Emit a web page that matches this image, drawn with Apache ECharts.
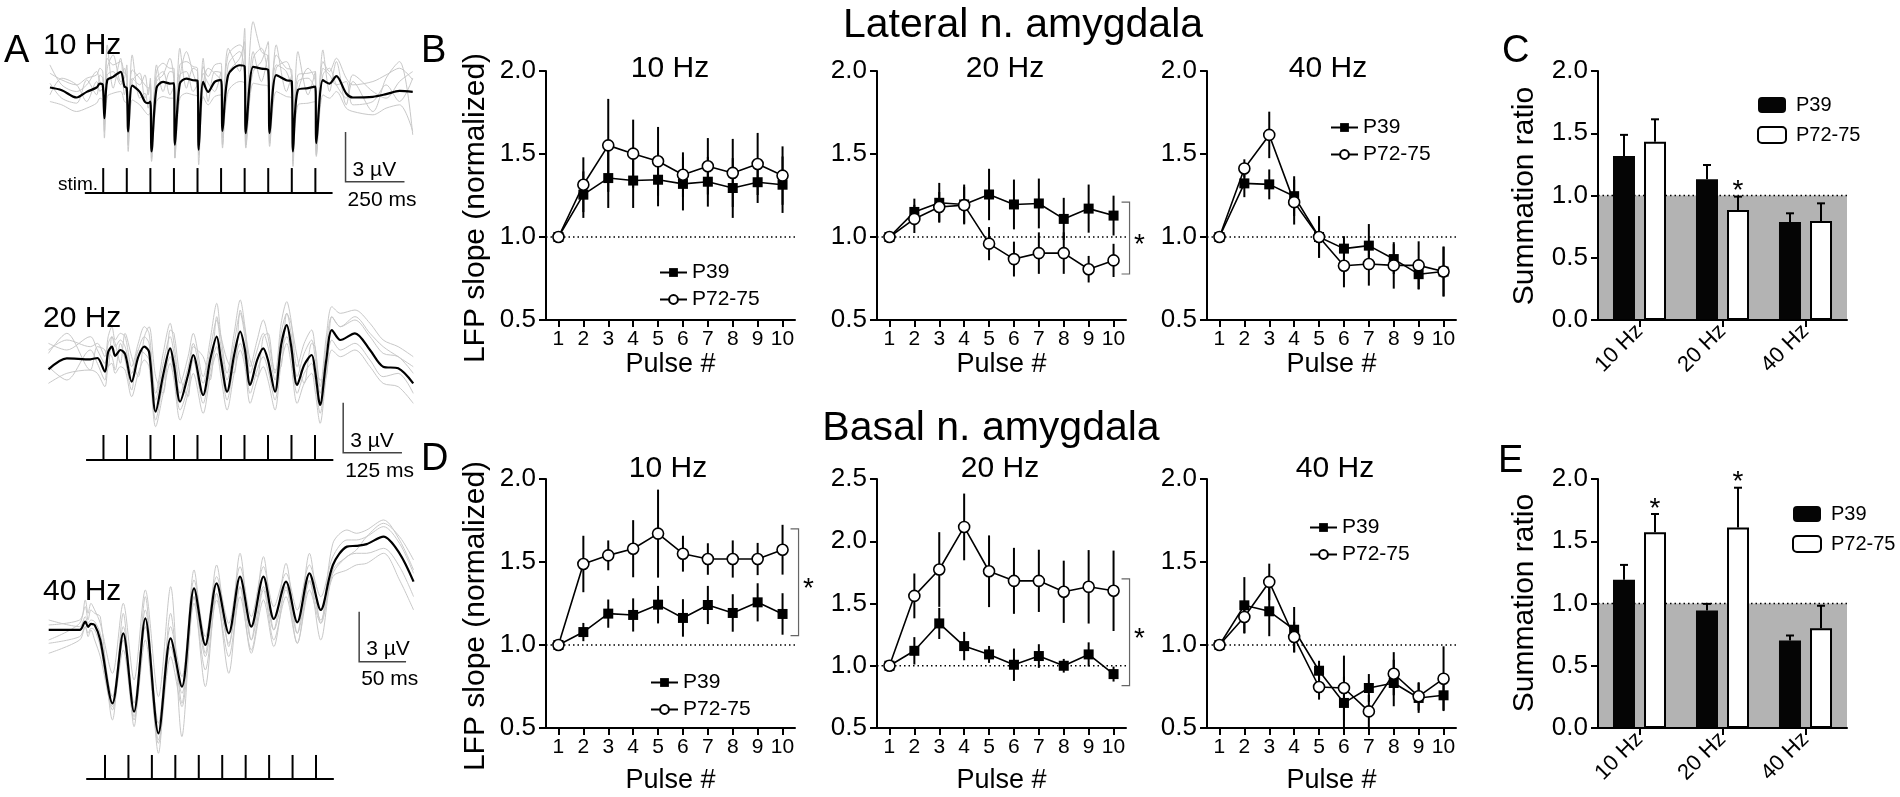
<!DOCTYPE html>
<html>
<head>
<meta charset="utf-8">
<title>Summation of LFP slopes in lateral and basal amygdala</title>
<script src="https://cdn.jsdelivr.net/npm/echarts@6/dist/echarts.min.js"></script>
<style>
  html, body { margin: 0; padding: 0; background: #fff; }
  #chart { width: 1900px; height: 797px; }
</style>
</head>
<body>
<div id="chart"></div>
<script>
// ---- Panel A: example LFP traces (time in ms from first pulse, amplitude in µV) ----
var t10 = [-226,-176,-113,-70,-28,-14,-2,5,17,42, 74,90,100,106,123,155,177,191,200,205,
  226,254,283,300,304,325,353,381,400,405, 424,445,473,500,506,530,579,600,605,636,
  671,700,706,734,777,800,805,826,869,900, 904,932,960,989,1031,1059,1144,1200,1257,1313];
var mean10 = [0.04,-0.12,-0.56,-0.22,0.04,0.28,0.2,-1.8,0.48,0.68, 0.98,0.1,0.0,-2.6,0.15,-0.22,-0.82,-0.9,-0.8,-3.8,
  0.0,0.38,0.28,0.3,-3.4,0.28,0.58,0.48,0.45,-3.7, 0.38,-0.22,0.38,0.5,-2.56,0.78,1.38,1.3,-2.7,1.28,
  1.18,1.1,-2.7,0.78,0.48,0.4,-3.8,-0.1,0.0,0.1, -3.3,0.48,0.28,0.72,-0.32,-0.56,-0.52,-0.36,-0.16,-0.22];
var gray10a = [0.9,0.5,0.2,0.6,0.8,1.2,1.0,-1.2,1.8,1.4, 1.6,0.9,0.8,-2.0,1.1,0.6,0.2,0.0,0.2,-3.0,
  1.0,1.5,1.2,1.2,-2.6,1.4,1.6,1.3,1.2,-2.8, 1.3,0.7,1.4,1.5,-1.6,2.0,2.6,2.2,-1.8,4.0,
  2.2,1.9,-1.9,2.0,1.2,1.1,-3.2,0.8,0.9,1.0, -2.5,1.6,1.0,1.8,0.6,0.2,0.4,0.8,1.2,0.5];
var gray10b = [-0.8,-1.0,-1.4,-1.2,-0.9,-0.6,-0.7,-2.6,-0.5,-0.3, -0.2,-0.8,-0.9,-3.4,-0.7,-1.0,-1.4,-1.6,-1.5,-4.4,
  -0.8,-0.5,-0.6,-0.6,-4.2,-0.6,-0.3,-0.4,-0.5,-4.6, -0.5,-1.0,-0.5,-0.4,-3.4,-0.2,0.4,0.3,-3.6,0.3,
  0.2,0.1,-3.5,-0.2,-0.5,-0.6,-4.7,-1.0,-0.9,-0.8, -4.1,-0.4,-0.6,-0.2,-1.2,-1.4,-1.6,-1.2,-1.0,-2.6];
var gray10c = [0.3,-0.6,-0.9,0.5,-0.4,0.8,0.6,-2.2,2.6,0.0, 1.8,-0.4,0.3,-3.0,2.0,-0.6,-0.3,-1.2,-0.5,-4.2,
  1.4,-0.2,1.0,0.9,-3.8,2.4,0.0,1.2,1.0,-4.0, 1.8,-0.8,1.0,0.9,-3.0,2.4,1.0,3.6,-3.2,2.2,
  0.4,2.0,-3.3,2.6,-0.2,0.8,-4.4,2.2,-0.4,1.0, -3.8,2.3,-0.2,1.6,-1.0,0.4,-1.4,0.6,1.6,-2.8];
var gray10d = [-0.4,0.6,0.2,-0.8,0.4,-0.2,0.0,-3.0,0.8,1.0, 0.2,1.2,0.6,-3.8,0.4,0.9,-0.6,-0.2,0.3,-2.8,
  0.6,1.0,-0.4,0.1,-4.2,0.8,1.0,-0.2,0.2,-2.6, 0.9,0.3,-0.2,1.0,-3.6,1.4,2.2,0.8,-3.4,1.8,
  2.4,0.6,-2.0,1.4,1.0,-0.2,-2.8,0.4,0.6,-0.3, -4.0,1.2,0.8,0.2,0.4,-1.0,-0.8,0.2,-0.8,0.6];
var gray10e = [1.4,0.2,-0.2,0.2,1.0,0.4,0.2,-1.4,1.2,2.0, 0.4,0.6,1.4,-2.2,0.6,0.2,0.8,-0.4,0.6,-3.4,
  0.4,0.8,1.8,0.4,-3.0,0.6,2.2,0.9,0.0,-3.2, 0.2,1.2,0.9,0.4,-2.2,0.9,1.8,2.8,-2.0,1.0,
  1.6,2.8,-2.4,1.2,1.6,0.6,-3.0,-0.2,1.2,0.4, -2.8,0.8,1.2,0.2,-0.6,0.8,-0.2,-0.6,0.4,1.0];

var t20 = [-117,-78,-28,-13,3,10,18,25,36,46, 60,74,87,97,111,127,142,150,163,180,
  191,212,227,241,250,263,278,291,301,312, 327,340,350,365,378,390,399,412,427,443,
  450,461,474,486,504,535,567,595,627,659];
var mean20 = [-0.56,0.1,0.04,0.12,-0.7,0.48,0.8,0.24,0.6,0.36, -1.3,0.18,0.8,0.48,-3.1,-0.9,0.7,-0.3,-2.5,-0.9,
  0.3,-2.1,0,1.4,0,-1.9,0.3,1.7,0.6,-1.5, 0,0.7,0,-1.9,0.9,2.1,0.9,-1.5,-0.3,0.3,
  -0.6,-2.7,0,1.8,1.2,1.6,0.6,-0.4,-0.5,-1.4];
var gray20a = [0.6,1.2,0.8,1.0,0.2,1.4,2.0,1.2,1.6,1.4, -0.4,1.0,2.0,1.6,-2.0,0.4,2.2,1.0,-1.4,0.2,
  1.6,-1.0,1.2,3.4,1.4,-0.8,1.6,3.6,2.0,-0.4, 1.2,2.4,1.4,-0.8,2.2,3.5,2.4,-0.4,1.0,1.8,
  0.8,-1.6,1.4,3.2,2.8,3.0,2.2,1.2,0.8,0.2];
var gray20b = [-1.4,-0.8,-0.6,-0.8,-1.6,-0.4,-0.2,-0.8,-0.4,-0.6, -2.2,-0.8,0.0,-0.4,-4.0,-2.0,-0.2,-1.2,-3.6,-2.0,
  -0.8,-3.2,-1.0,0.4,-1.0,-3.0,-0.8,0.6,-0.4,-2.6, -1.2,-0.4,-1.2,-3.0,-0.2,1.0,-0.2,-2.6,-1.4,-0.8,
  -1.8,-3.8,-1.0,0.6,0.2,0.6,-0.4,-1.4,-1.6,-2.6];
var gray20c = [0.4,1.6,-0.6,0.8,0.6,-0.4,1.4,1.0,-0.2,1.6, 0.2,-1.0,1.4,2.0,-1.0,-2.0,1.8,1.6,-1.0,-2.2,
  0.8,0.2,-1.2,2.6,1.4,0.0,-0.8,3.0,1.8,0.0, -1.0,1.4,1.6,-0.6,-0.4,2.8,2.2,0.2,-1.4,1.0,
  0.8,-1.2,-1.0,2.6,2.0,2.6,1.6,0.8,0.2,-0.4];
var gray20d = [-0.4,-1.2,0.6,-0.2,-1.2,0.4,0.2,-0.6,1.0,0.0, -1.8,0.6,0.4,0.0,-3.6,-1.4,0.2,-0.8,-3.0,-1.6,
  0.0,-2.6,-0.6,0.8,-0.4,-2.4,-0.2,1.0,0.0,-2.0, -0.6,0.2,-0.6,-2.4,0.4,1.4,0.4,-2.0,-0.8,-0.2,
  -1.2,-3.2,-0.6,1.2,0.6,1.0,0.0,-1.0,-0.8,-2.0];
var gray20e = [1.0,0.6,1.4,0.6,-0.2,1.0,1.4,0.8,1.2,0.8, -0.8,0.6,1.4,1.0,-2.4,-0.2,1.4,0.4,-2.0,-0.4,
  1.0,-1.4,0.6,2.4,0.8,-1.2,1.0,2.8,1.4,-0.8, 0.6,1.6,0.8,-1.2,1.6,2.8,1.6,-1.0,0.4,1.2,
  0.2,-2.0,0.8,2.6,2.0,2.4,1.4,0.4,0.2,-0.8];

var t40 = [-60,-27,-21,-18,-15,-11,-5,8,19.5,31, 43,57,70,82,95,107,119,132,144,156,
  169,180,193,205,218,230,243,258,268,279, 297,314,329];
var mean40 = [0,0,0.5,0.18,0.36,0.3,-0.6,-4.4,-0.2,-4.9, 0.7,-6.2,-0.5,-3.4,2.5,-0.9,2.8,-0.2,3.2,0.2,
  3.2,0.66,2.9,0.46,3.4,1.2,3.9,5.0,5.05,5.15, 5.6,4.6,2.9];
var gray40a = [0.3,0.6,1.4,0.6,1.2,1.0,0.8,-5.4,1.0,-5.8, 2.0,-7.4,1.0,-4.4,3.6,-1.4,3.9,-1.0,4.6,-0.6,
  4.4,0.0,4.0,-0.2,4.6,0.4,5.2,6.0,5.8,6.0, 6.6,5.4,3.6];
var gray40b = [-1.4,-0.6,0.2,-0.4,0.0,-0.6,-1.6,-4.6,-1.2,-5.4, -0.6,-6.8,-1.6,-4.6,1.6,-2.4,1.8,-1.6,2.0,-1.2,
  2.4,-0.6,2.0,-0.8,2.4,0.4,3.2,3.6,3.9,4.0, 4.6,3.0,1.2];
var gray40c = [-0.6,0.4,1.8,1.0,1.6,1.2,0.4,-2.6,1.6,-3.0, 2.4,-4.0,2.6,-6.4,2.0,-3.4,2.2,-2.6,2.6,-1.4,
  1.8,-1.0,2.6,-0.8,3.0,-0.6,3.6,4.4,4.8,5.6, 6.4,5.6,4.2];
var gray40d = [0.6,0.2,0.8,0.4,0.6,0.5,-0.2,-4.0,0.2,-4.4, 1.2,-5.6,0.2,-2.8,3.0,-0.4,3.2,0.4,3.8,0.8,
  3.8,1.4,3.4,1.2,3.9,2.0,4.4,5.4,5.4,5.6, 6.2,5.2,3.4];
var gray40e = [-0.8,-0.4,0.2,-0.2,0.1,0.0,-1.0,-4.8,-0.6,-5.2, 0.2,-6.6,-1.0,-3.8,2.0,-1.6,2.2,-0.8,2.6,-0.6,
  2.6,0.0,2.4,-0.2,2.9,0.6,3.4,4.4,4.6,4.6, 4.9,3.8,2.0];

var stim10 = [0,100,200,300,400,500,600,700,800,900];
var stim20 = [0,50,100,150,200,250,300,350,400,450];
var stim40 = [0,25,50,75,100,125,150,175,200,225];
var stimSpan10 = [-78, 973], stimSpan20 = [-37, 489], stimSpan40 = [-20, 244];
var stimLevel10 = [-4.8, -6.3], stimLevel20 = [-4.5, -6.0], stimLevel40 = [-7.5, -8.94];
// scale bars: [t0, v0, dt (ms), dv (µV)]
var scaleBar10 = [1028, -5.63, 250, 3], scaleBar20 = [510, -5.57, 125, 3], scaleBar40 = [271, -1.9, 50, 3];
var scaleText10 = ['3 µV', '250 ms'], scaleText20 = ['3 µV', '125 ms'], scaleText40 = ['3 µV', '50 ms'];

// ---- Panels B / D: normalized LFP slope per pulse (mean, SEM) ----
var pulses = ['1','2','3','4','5','6','7','8','9','10'];
var latP39_10  = [1.00, 1.255, 1.355, 1.34, 1.345, 1.32, 1.333, 1.295, 1.33, 1.315];
var latP39_10e = [0, 0.14, 0.18, 0.165, 0.16, 0.16, 0.15, 0.18, 0.125, 0.17];
var latP72_10  = [1.00, 1.315, 1.552, 1.502, 1.456, 1.375, 1.426, 1.386, 1.44, 1.37];
var latP72_10e = [0, 0.165, 0.28, 0.205, 0.207, 0.135, 0.17, 0.205, 0.187, 0.176];
var latP39_20  = [1.00, 1.151, 1.206, 1.196, 1.256, 1.196, 1.202, 1.109, 1.171, 1.129];
var latP39_20e = [0, 0.08, 0.12, 0.12, 0.155, 0.15, 0.15, 0.127, 0.145, 0.12];
var latP72_20  = [1.00, 1.109, 1.181, 1.192, 0.96, 0.867, 0.903, 0.903, 0.806, 0.859];
var latP72_20e = [0, 0.085, 0.09, 0.11, 0.1, 0.105, 0.125, 0.125, 0.08, 0.1];
var latP39_40  = [1.00, 1.323, 1.317, 1.246, 1.0, 0.93, 0.948, 0.867, 0.776, 0.792];
var latP39_40e = [0, 0.083, 0.09, 0.12, 0.125, 0.075, 0.13, 0.09, 0.09, 0.15];
var latP72_40  = [1.00, 1.413, 1.615, 1.21, 1.0, 0.827, 0.837, 0.829, 0.829, 0.792];
var latP72_40e = [0, 0.055, 0.14, 0.135, 0.125, 0.13, 0.13, 0.14, 0.145, 0.15];

var basP39_10  = [1.00, 1.078, 1.189, 1.181, 1.243, 1.163, 1.241, 1.193, 1.257, 1.187];
var basP39_10e = [0, 0.055, 0.085, 0.1, 0.113, 0.113, 0.115, 0.113, 0.115, 0.125];
var basP72_10  = [1.00, 1.488, 1.540, 1.580, 1.671, 1.550, 1.518, 1.518, 1.518, 1.574];
var basP72_10e = [0, 0.17, 0.09, 0.172, 0.265, 0.108, 0.095, 0.112, 0.097, 0.15];
var basP39_20  = [1.00, 1.12, 1.34, 1.158, 1.091, 1.008, 1.078, 1.0, 1.091, 0.933];
var basP39_20e = [0, 0.11, 0.125, 0.114, 0.068, 0.13, 0.095, 0.055, 0.097, 0.06];
var basP72_20  = [1.00, 1.561, 1.773, 2.115, 1.759, 1.682, 1.682, 1.594, 1.634, 1.602];
var basP72_20e = [0, 0.18, 0.3, 0.268, 0.288, 0.265, 0.25, 0.25, 0.295, 0.323];
var basP39_40  = [1.00, 1.239, 1.203, 1.092, 0.845, 0.651, 0.741, 0.771, 0.681, 0.697];
var basP39_40e = [0, 0.17, 0.15, 0.137, 0.06, 0.16, 0.084, 0.14, 0.09, 0.09];
var basP72_40  = [1.00, 1.169, 1.38, 1.048, 0.747, 0.741, 0.6, 0.827, 0.691, 0.797];
var basP72_40e = [0, 0.097, 0.11, 0.092, 0.076, 0.195, 0.1, 0.13, 0.085, 0.195];

// significance brackets over the last pulses: [top, bottom] in slope units
var bracketLat20 = [1.21, 0.777], bracketBas10 = [1.699, 1.056], bracketBas20 = [1.697, 0.84];

// ---- Panels C / E: summation ratio ----
var freqs = ['10 Hz', '20 Hz', '40 Hz'];
var latSumP39 = [1.317, 1.13, 0.787], latSumP39e = [0.17, 0.115, 0.07];
var latSumP72 = [1.432, 0.884, 0.795], latSumP72e = [0.18, 0.107, 0.142];
var latSumSig = [0, 1, 0];
var basSumP39 = [1.19, 0.944, 0.703], basSumP39e = [0.12, 0.053, 0.04];
var basSumP72 = [1.572, 1.61, 0.802], basSumP72e = [0.147, 0.32, 0.18];
var basSumSig = [1, 1, 0];

var FONT = '"Liberation Sans", Arial, Helvetica, sans-serif';

function txtStyle(text, size, align, va) {
  return { text: text, fill: '#000', font: size + 'px ' + FONT,
    align: align, verticalAlign: va, textAlign: align, textVerticalAlign: va };
}
function label(text, x, y, size, align, rot) {
  return { type: 'text', x: x, y: y, rotation: rot || 0, silent: true, z: 10,
    style: txtStyle(text, size, align || 'center', 'middle') };
}

var grids = [
  { left: 49, top: 15, width: 364.2, height: 183 },      // A 10 Hz
  { left: 48, top: 290, width: 365.7, height: 175 },     // A 20 Hz
  { left: 48.7, top: 513.3, width: 365.8, height: 270 }, // A 40 Hz
  { left: 546, top: 71, width: 249, height: 249 },       // B 10 Hz
  { left: 877, top: 71, width: 249, height: 249 },       // B 20 Hz
  { left: 1207, top: 71, width: 249, height: 249 },      // B 40 Hz
  { left: 1598, top: 71, width: 249, height: 249 },      // C
  { left: 546, top: 479, width: 249, height: 249 },      // D 10 Hz
  { left: 877, top: 479, width: 249, height: 249 },      // D 20 Hz
  { left: 1207, top: 479, width: 249, height: 249 },     // D 40 Hz
  { left: 1598, top: 479, width: 249, height: 249 }      // E
];
grids.forEach(function(g) { g.outerBoundsMode = 'none'; g.containLabel = false; });

var xAxes = [], yAxes = [];
var traceRange = [[-230, 1315, -6.6, 4.4], [-118, 660, -6.3, 4.2], [-60, 330, -9.2, 7]];
traceRange.forEach(function(r, i) {
  xAxes.push({ type: 'value', gridIndex: i, min: r[0], max: r[1], show: false });
  yAxes.push({ type: 'value', gridIndex: i, min: r[2], max: r[3], show: false });
});

var axLine = { show: true, onZero: false, lineStyle: { color: '#000', width: 2 } };
var axTick = { show: true, length: 7, lineStyle: { color: '#000', width: 2 } };

function pulseAxes(g, ymin, ymax, nameGap) {
  xAxes.push({
    type: 'category', gridIndex: g, data: pulses, boundaryGap: true,
    axisLine: axLine, axisTick: { show: true, alignWithLabel: true, length: 7, lineStyle: { color: '#000', width: 2 } },
    axisLabel: { color: '#000', fontSize: 21, fontFamily: FONT, margin: 9, interval: 0 },
    splitLine: { show: false },
    name: 'Pulse #', nameLocation: 'middle', nameGap: nameGap,
    nameTextStyle: { color: '#000', fontSize: 27, fontFamily: FONT }
  });
  yAxes.push({
    type: 'value', gridIndex: g, min: ymin, max: ymax, interval: 0.5,
    axisLine: axLine, axisTick: axTick, splitLine: { show: false },
    axisLabel: { color: '#000', fontSize: 26, fontFamily: FONT, margin: 10,
      formatter: function(v) { return v.toFixed(1); } }
  });
}
function freqAxes(g) {
  xAxes.push({
    type: 'category', gridIndex: g, data: freqs, z: 5,
    axisLine: axLine, axisTick: { show: true, alignWithLabel: true, length: 7, lineStyle: { color: '#000', width: 2 } },
    axisLabel: { color: '#000', fontSize: 22, fontFamily: FONT, rotate: 45, margin: 8, interval: 0 },
    splitLine: { show: false }
  });
  yAxes.push({
    type: 'value', gridIndex: g, min: 0, max: 2, interval: 0.5, z: 5,
    axisLine: axLine, axisTick: axTick, splitLine: { show: false },
    axisLabel: { color: '#000', fontSize: 26, fontFamily: FONT, margin: 10,
      formatter: function(v) { return v.toFixed(1); } }
  });
}
pulseAxes(3, 0.5, 2.0, 31);
pulseAxes(4, 0.5, 2.0, 31);
pulseAxes(5, 0.5, 2.0, 31);
freqAxes(6);
pulseAxes(7, 0.5, 2.0, 39);
pulseAxes(8, 0.5, 2.5, 39);
pulseAxes(9, 0.5, 2.0, 39);
freqAxes(10);

var series = [];

// --- trace panels ---
function addTraces(g, times, lists) {
  lists.forEach(function(vals, k) {
    var isMean = k === lists.length - 1;
    series.push({
      type: 'line', xAxisIndex: g, yAxisIndex: g, silent: true, symbol: 'none', showSymbol: false,
      smooth: 0.3, data: times.map(function(t, i) { return [t, vals[i]]; }),
      lineStyle: { color: isMean ? '#000' : '#c8c8c8', width: isMean ? 2.2 : 1 },
      z: isMean ? 3 : 2
    });
  });
}
function addStim(g, times, span, level) {
  series.push({
    type: 'custom', xAxisIndex: g, yAxisIndex: g, silent: true, z: 3,
    data: times.map(function(t) { return [t, level[0], level[1]]; }),
    renderItem: function(params, api) {
      var a = api.coord([api.value(0), api.value(1)]), b = api.coord([api.value(0), api.value(2)]);
      return { type: 'line', shape: { x1: a[0], y1: a[1], x2: b[0], y2: b[1] }, style: { stroke: '#000', lineWidth: 2 } };
    }
  });
  series.push({
    type: 'custom', xAxisIndex: g, yAxisIndex: g, silent: true, z: 3,
    data: [[span[0], span[1], level[1]]],
    renderItem: function(params, api) {
      var a = api.coord([api.value(0), api.value(2)]), b = api.coord([api.value(1), api.value(2)]);
      return { type: 'line', shape: { x1: a[0], y1: a[1], x2: b[0], y2: b[1] }, style: { stroke: '#000', lineWidth: 2 } };
    }
  });
}
function addScaleBar(g, bar, texts) {
  series.push({
    type: 'custom', xAxisIndex: g, yAxisIndex: g, silent: true, z: 3, clip: false,
    data: [bar],
    renderItem: function(params, api) {
      var t0 = api.value(0), v0 = api.value(1), dt = api.value(2), dv = api.value(3);
      var c = api.coord([t0, v0]), top = api.coord([t0, v0 + dv]), r = api.coord([t0 + dt, v0]);
      return { type: 'group', children: [
        { type: 'polyline', shape: { points: [top, c, r] }, style: { stroke: '#444', lineWidth: 1.5, fill: null } },
        { type: 'text', x: c[0] + 7, y: c[1] - 12, style: txtStyle(texts[0], 21, 'left', 'middle') },
        { type: 'text', x: c[0] + 2, y: c[1] + 18, style: txtStyle(texts[1], 21, 'left', 'middle') }
      ] };
    }
  });
}
addTraces(0, t10, [gray10a, gray10b, gray10c, gray10d, gray10e, mean10]);
addStim(0, stim10, stimSpan10, stimLevel10);
addScaleBar(0, scaleBar10, scaleText10);
addTraces(1, t20, [gray20a, gray20b, gray20c, gray20d, gray20e, mean20]);
addStim(1, stim20, stimSpan20, stimLevel20);
addScaleBar(1, scaleBar20, scaleText20);
addTraces(2, t40, [gray40a, gray40b, gray40c, gray40d, gray40e, mean40]);
addStim(2, stim40, stimSpan40, stimLevel40);
addScaleBar(2, scaleBar40, scaleText40);

// --- pulse panels ---
function refLine(g) {
  series.push({
    type: 'custom', xAxisIndex: g, yAxisIndex: g, silent: true, z: 1, data: [[0, 1]],
    renderItem: function(params, api) {
      var cs = params.coordSys, y = api.coord([0, api.value(1)])[1];
      return { type: 'line', shape: { x1: cs.x, y1: y, x2: cs.x + cs.width, y2: y },
        style: { stroke: '#000', lineWidth: 1.5, lineDash: [1.5, 3] } };
    }
  });
}
function errSeries(g, vals, errs) {
  series.push({
    type: 'custom', xAxisIndex: g, yAxisIndex: g, silent: true, z: 2, clip: true,
    data: vals.map(function(v, i) { return [i, v, errs[i]]; }),
    renderItem: function(params, api) {
      var i = api.value(0), v = api.value(1), e = api.value(2);
      var lo = api.coord([i, v - e]), hi = api.coord([i, v + e]);
      return { type: 'line', shape: { x1: lo[0], y1: lo[1], x2: hi[0], y2: hi[1] }, style: { stroke: '#000', lineWidth: 2 } };
    }
  });
}
function lineSeries(g, name, vals, filled) {
  series.push({
    type: 'line', name: name, xAxisIndex: g, yAxisIndex: g, data: vals,
    symbol: filled ? 'rect' : 'circle', symbolSize: filled ? 10 : 11, showAllSymbol: true,
    lineStyle: { color: '#000', width: 1.6 },
    itemStyle: { color: filled ? '#000' : '#fff', borderColor: '#000', borderWidth: filled ? 0 : 1.6 },
    emphasis: { disabled: true }, z: filled ? 3 : 4
  });
}
function bracket(g, br) {
  series.push({
    type: 'custom', xAxisIndex: g, yAxisIndex: g, silent: true, z: 2, clip: false, data: [br],
    renderItem: function(params, api) {
      var top = api.coord([9, api.value(0)]), bot = api.coord([9, api.value(1)]);
      var x = top[0] + 16, mid = (top[1] + bot[1]) / 2;
      return { type: 'group', children: [
        { type: 'polyline', shape: { points: [[x - 8, top[1]], [x, top[1]], [x, bot[1]], [x - 8, bot[1]]] },
          style: { stroke: '#666', lineWidth: 1.2, fill: null } },
        { type: 'text', x: x + 10, y: mid + 7, style: txtStyle('*', 28, 'center', 'middle') }
      ] };
    }
  });
}
function pulsePanel(g, p39, p39e, p72, p72e, br) {
  refLine(g);
  errSeries(g, p39, p39e);
  errSeries(g, p72, p72e);
  lineSeries(g, 'P39', p39, true);
  lineSeries(g, 'P72-75', p72, false);
  if (br) bracket(g, br);
}
pulsePanel(3, latP39_10, latP39_10e, latP72_10, latP72_10e);
pulsePanel(4, latP39_20, latP39_20e, latP72_20, latP72_20e, bracketLat20);
pulsePanel(5, latP39_40, latP39_40e, latP72_40, latP72_40e);
pulsePanel(7, basP39_10, basP39_10e, basP72_10, basP72_10e, bracketBas10);
pulsePanel(8, basP39_20, basP39_20e, basP72_20, basP72_20e, bracketBas20);
pulsePanel(9, basP39_40, basP39_40e, basP72_40, basP72_40e);

// --- summation bar panels ---
function sumPanel(g, p39, p39e, p72, p72e, sig) {
  series.push({
    type: 'custom', xAxisIndex: g, yAxisIndex: g, silent: true, z: 1, data: [[0, 1]],
    renderItem: function(params, api) {
      var cs = params.coordSys, y1 = api.coord([0, api.value(1)])[1], y0 = api.coord([0, 0])[1];
      return { type: 'group', children: [
        { type: 'rect', shape: { x: cs.x, y: y1, width: cs.width, height: y0 - y1 }, style: { fill: '#b3b3b3' } },
        { type: 'line', shape: { x1: cs.x, y1: y1, x2: cs.x + cs.width, y2: y1 },
          style: { stroke: '#000', lineWidth: 1.5, lineDash: [1.5, 3] } }
      ] };
    }
  });
  series.push({
    type: 'bar', name: 'bar:P39', xAxisIndex: g, yAxisIndex: g, data: p39, barWidth: 22, barGap: '41%',
    itemStyle: { color: '#050505' }, emphasis: { disabled: true }, z: 2
  });
  series.push({
    type: 'bar', name: 'bar:P72-75', xAxisIndex: g, yAxisIndex: g, data: p72, barWidth: 22, barGap: '41%',
    itemStyle: { color: '#fff', borderColor: '#000', borderWidth: 2 }, emphasis: { disabled: true }, z: 2
  });
  [[p39, p39e, -1, null], [p72, p72e, 1, sig]].forEach(function(s) {
    series.push({
      type: 'custom', xAxisIndex: g, yAxisIndex: g, silent: true, z: 3, clip: false,
      data: s[0].map(function(v, i) { return [i, v, s[1][i], s[3] ? s[3][i] : 0]; }),
      renderItem: function(params, api) {
        var i = api.value(0), v = api.value(1);
        var c = api.coord([i, v]), t = api.coord([i, v + api.value(2)]);
        var x = c[0] + s[2] * 15.5;
        var kids = [
          { type: 'line', shape: { x1: x, y1: c[1], x2: x, y2: t[1] }, style: { stroke: '#000', lineWidth: 2 } },
          { type: 'line', shape: { x1: x - 4, y1: t[1], x2: x + 4, y2: t[1] }, style: { stroke: '#000', lineWidth: 2 } }
        ];
        if (api.value(3)) kids.push({ type: 'text', x: x, y: t[1] - 5, style: txtStyle('*', 28, 'center', 'middle') });
        return { type: 'group', children: kids };
      }
    });
  });
}
sumPanel(6, latSumP39, latSumP39e, latSumP72, latSumP72e, latSumSig);
sumPanel(10, basSumP39, basSumP39e, basSumP72, basSumP72e, basSumSig);

function lineLegend(left, top) {
  return { data: ['P39', 'P72-75'], orient: 'vertical', left: left, top: top, padding: 0,
    itemWidth: 27, itemHeight: 11, itemGap: 6, selectedMode: false,
    textStyle: { color: '#000', fontSize: 21, fontFamily: FONT } };
}
function barLegend(left, top) {
  return { data: ['bar:P39', 'bar:P72-75'], orient: 'vertical', left: left, top: top, padding: 0,
    itemWidth: 28, itemHeight: 16, itemGap: 10, selectedMode: false,
    formatter: function(n) { return n.replace('bar:', ''); },
    textStyle: { color: '#000', fontSize: 20, fontFamily: FONT, padding: [0, 0, 0, 5] } };
}

var R = Math.PI / 2;
var graphics = [
  label('A', 4, 52, 38, 'left'), label('B', 421, 52, 38, 'left'), label('C', 1502, 52, 38, 'left'),
  label('D', 421, 460, 38, 'left'), label('E', 1498, 462, 38, 'left'),
  label('Lateral n. amygdala', 1023, 26, 41), label('Basal n. amygdala', 991, 429, 41),
  label('10 Hz', 670, 69, 30), label('20 Hz', 1005, 69, 30), label('40 Hz', 1328, 69, 30),
  label('10 Hz', 668, 469, 30), label('20 Hz', 1000, 469, 30), label('40 Hz', 1335, 469, 30),
  label('10 Hz', 43, 46, 30, 'left'), label('20 Hz', 43, 319, 30, 'left'), label('40 Hz', 43, 592, 30, 'left'),
  label('stim.', 58, 185, 19, 'left'),
  label('LFP slope (normalized)', 476, 208, 30, 'center', R),
  label('LFP slope (normalized)', 476, 616, 30, 'center', R),
  label('Summation ratio', 1525, 196, 30, 'center', R),
  label('Summation ratio', 1525, 603, 30, 'center', R)
];

var chart = echarts.init(document.getElementById('chart'), null, { renderer: 'canvas' });
chart.setOption({
  animation: false,
  backgroundColor: '#fff',
  grid: grids,
  xAxis: xAxes,
  yAxis: yAxes,
  legend: [lineLegend(659, 262), lineLegend(1330, 117), lineLegend(650, 672), lineLegend(1309, 517),
    barLegend(1757, 95), barLegend(1792, 504)],
  graphic: graphics,
  series: series
});
window.addEventListener('resize', function() { chart.resize(); });
</script>
</body>
</html>
